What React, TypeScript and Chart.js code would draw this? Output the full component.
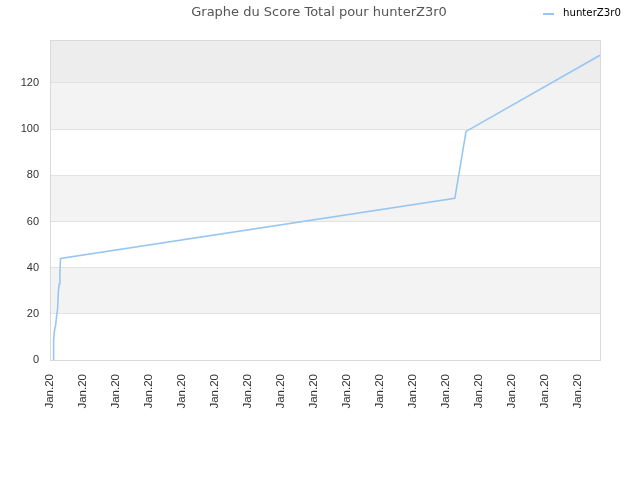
import React, { useEffect, useRef } from 'react';
import Chart from 'chart.js/auto';

const TITLE = 'Graphe du Score Total pour hunterZ3r0';
const seriesLabel = 'hunterZ3r0';

// x positions are in tick intervals (one "Jan.20" label per unit)
const timePoints = [0.1, 0.11, 0.14, 0.17, 0.2, 0.23, 0.25, 0.28, 0.3, 0.32, 12.27, 12.61, 16.67];
const scores = [0, 9, 13, 15, 19, 22, 29, 33, 38, 44, 70, 99, 132];

const xTickLabels = [
  'Jan.20', 'Jan.20', 'Jan.20', 'Jan.20', 'Jan.20', 'Jan.20', 'Jan.20', 'Jan.20', 'Jan.20',
  'Jan.20', 'Jan.20', 'Jan.20', 'Jan.20', 'Jan.20', 'Jan.20', 'Jan.20', 'Jan.20',
];
const xMax = 16.67;
const yTicks = [0, 20, 40, 60, 80, 100, 120];
const yMax = 138.6;

const LINE_COLOR = '#97c6f3';

// alternating background bands + plot frame, JpGraph style
const bandsPlugin = {
  id: 'bands',
  beforeDraw(chart: any) {
    const { ctx, chartArea } = chart;
    const y = chart.scales.y;
    const vals = y.ticks.map((t: any) => t.value);
    ctx.save();
    for (let i = 0; i < vals.length; i++) {
      const from = vals[i];
      const to = i + 1 < vals.length ? vals[i + 1] : y.max;
      let fill = i % 2 === 1 ? '#f3f3f3' : '#ffffff';
      if (i === vals.length - 1) fill = '#ededed';
      const top = y.getPixelForValue(to);
      const bottom = y.getPixelForValue(from);
      ctx.fillStyle = fill;
      ctx.fillRect(chartArea.left, top, chartArea.right - chartArea.left, bottom - top);
    }
    ctx.restore();
  },
  beforeDatasetsDraw(chart: any) {
    const { ctx, chartArea } = chart;
    ctx.save();
    ctx.strokeStyle = '#d9d9d9';
    ctx.lineWidth = 1;
    ctx.strokeRect(chartArea.left + 0.5, chartArea.top + 0.5, chartArea.right - chartArea.left, chartArea.bottom - chartArea.top);
    ctx.restore();
  },
};

// title and legend share the top row
const headerPlugin = {
  id: 'header',
  afterDraw(chart: any) {
    const { ctx } = chart;
    ctx.save();
    ctx.font = '13px "DejaVu Sans"';
    ctx.fillStyle = '#555555';
    ctx.textAlign = 'center';
    ctx.textBaseline = 'middle';
    ctx.fillText(TITLE, 319, 12.5);

    const ds = chart.data.datasets[0];
    ctx.strokeStyle = ds.borderColor;
    ctx.lineWidth = 2;
    ctx.beginPath();
    ctx.moveTo(543, 14);
    ctx.lineTo(554, 14);
    ctx.stroke();
    ctx.font = '10.2px "DejaVu Sans"';
    ctx.fillStyle = '#000000';
    ctx.textAlign = 'left';
    ctx.fillText(ds.label, 563, 13);
    ctx.restore();
  },
};

const App: React.FC = () => {
  const chartRef = useRef<HTMLCanvasElement>(null);
  const chartInstanceRef = useRef<Chart | null>(null);

  useEffect(() => {
    if (!chartRef.current) return;
    const ctx = chartRef.current.getContext('2d');
    if (!ctx) return;

    if (chartInstanceRef.current) {
      chartInstanceRef.current.destroy();
    }

    chartInstanceRef.current = new Chart(ctx, {
      type: 'line',
      data: {
        datasets: [
          {
            label: seriesLabel,
            data: timePoints.map((t, i) => ({ x: t, y: scores[i] })),
            borderColor: LINE_COLOR,
            backgroundColor: LINE_COLOR,
            borderWidth: 1.6,
            pointRadius: 0,
            tension: 0,
          },
        ],
      },
      options: {
        responsive: true,
        maintainAspectRatio: false,
        animation: false,
        layout: { padding: { left: 0, right: 40, top: 40, bottom: 0 } },
        scales: {
          x: {
            type: 'linear',
            min: 0,
            max: xMax,
            afterBuildTicks: (scale: any) => {
              scale.ticks = xTickLabels.map((_, i) => ({ value: i }));
            },
            afterFit: (scale: any) => {
              scale.height = 120;
            },
            ticks: {
              autoSkip: false,
              maxRotation: 90,
              minRotation: 90,
              padding: 14,
              color: '#333333',
              font: { family: '"Liberation Sans"', size: 11.5 },
              callback: (_value: any, index: number) => xTickLabels[index],
            },
            grid: { display: false, drawTicks: false },
            border: { display: false },
          },
          y: {
            min: 0,
            max: yMax,
            afterBuildTicks: (scale: any) => {
              scale.ticks = yTicks.map((v) => ({ value: v }));
            },
            afterFit: (scale: any) => {
              scale.width = 50;
            },
            ticks: {
              padding: 11,
              color: '#333333',
              font: { family: '"Liberation Sans"', size: 11 },
            },
            grid: { color: '#e2e2e2', drawTicks: false },
            border: { display: false },
          },
        },
        plugins: {
          legend: { display: false },
          title: { display: false },
          tooltip: { enabled: false },
        },
      },
      plugins: [bandsPlugin, headerPlugin],
    });

    return () => {
      if (chartInstanceRef.current) {
        chartInstanceRef.current.destroy();
        chartInstanceRef.current = null;
      }
    };
  }, []);

  return (
    <div style={{ position: 'fixed', left: 0, top: 0, width: 640, height: 480, background: '#ffffff' }}>
      <canvas ref={chartRef}></canvas>
    </div>
  );
};

export default App;
